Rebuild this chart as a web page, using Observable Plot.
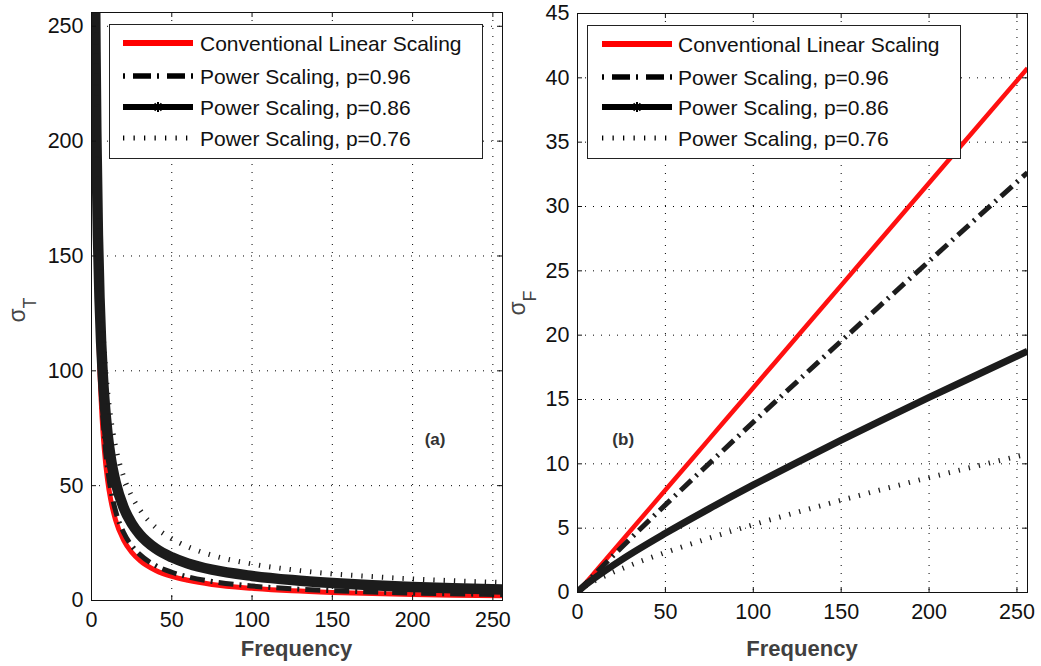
<!DOCTYPE html>
<html><head><meta charset="utf-8">
<script src="https://cdn.jsdelivr.net/npm/d3@7"></script>
<script src="https://cdn.jsdelivr.net/npm/@observablehq/plot@0.6"></script>
<style>
body{margin:0;background:#fff;}
#wrap{position:relative;width:1041px;height:666px;overflow:hidden;font-family:"Liberation Sans",Arial,sans-serif;}
.panel{position:absolute;top:0;}
</style></head><body><div id="wrap"></div>
<script>
// ---- data ----
const seriesNames = ["Conventional Linear Scaling","Power Scaling, p=0.96","Power Scaling, p=0.86","Power Scaling, p=0.76"];
// panel (a): sigma_T vs frequency
const freqA = [2, 2.5, 3, 4, 5, 6, 7, 8, 10, 12, 15, 20, 25, 30, 40, 50, 60, 75, 100, 125, 150, 175, 200, 225, 256];
const sigmaT_linear = [262, 210, 175, 131, 105, 87.5, 75, 65.6, 52.5, 43.8, 35, 26.3, 21, 17.5, 13.1, 10.5, 8.8, 7, 5.3, 4.2, 3.5, 3, 2.6, 2.3, 2.1];
const sigmaT_p96 = [270, 218, 183, 139, 112, 94, 81, 71.3, 57.6, 48.3, 39, 29.6, 23.9, 20.1, 15.2, 12.3, 10.3, 8.3, 6.3, 5.1, 4.3, 3.7, 3.2, 2.9, 2.6];
const sigmaT_p86 = [289, 239, 204, 159, 131.5, 112.4, 98.5, 87.8, 72.5, 62, 51.5, 40.5, 33.6, 28.8, 22.6, 18.8, 16.1, 13.4, 10.7, 8.9, 7.6, 6.6, 5.9, 5.3, 4.8];
const sigmaT_p76 = [310, 262, 228, 183, 154.5, 134.5, 119.6, 108, 91.2, 79.4, 67, 53.9, 45.5, 39.6, 31.8, 26.9, 23.4, 19.7, 15.9, 13.4, 11.6, 10.4, 9.4, 8.6, 7.8];
// panel (b): sigma_F vs frequency
const freqB = [0, 2, 5, 10, 25, 50, 75, 100, 125, 150, 175, 200, 225, 256];
const sigmaF_linear = [0, 0.32, 0.8, 1.59, 3.98, 7.96, 11.94, 15.92, 19.89, 23.87, 27.85, 31.83, 35.81, 40.74];
const sigmaF_p96 = [0, 0.31, 0.75, 1.45, 3.5, 6.81, 10.04, 13.24, 16.4, 19.54, 22.65, 25.75, 28.84, 32.64];
const sigmaF_p86 = [0, 0.29, 0.64, 1.15, 2.54, 4.6, 6.52, 8.36, 10.12, 11.84, 13.51, 15.16, 16.77, 18.75];
const sigmaF_p76 = [0, 0.27, 0.54, 0.92, 1.84, 3.11, 4.23, 5.27, 6.24, 7.17, 8.07, 8.93, 9.76, 10.77];
const xTicks = [0, 50, 100, 150, 200, 250];
const yTicksA = [0, 50, 100, 150, 200, 250];
const yTicksB = [0, 5, 10, 15, 20, 25, 30, 35, 40, 45];

// ---- styles ----
const FONT = '"Liberation Sans", Arial, sans-serif';
const styles = [
  {stroke: "#ff1010", legStroke: "#ff0000", wA: 5, wB: 4.5, dash: null, legW: 6, legDash: null},
  {stroke: "#1c1c1c", legStroke: "#000", wA: 5, wB: 5, dash: "15,6,2,6", legW: 5.5, legDash: "2,8,18,6"},
  {stroke: "#1c1c1c", legStroke: "#000", wA: 10.5, wB: 7, dash: null, legW: 6, legDash: null, marker: true},
  {stroke: "#1c1c1c", legStroke: "#000", wA: 5, wB: 5, dash: "1.3,9", legW: 5, legDash: "1.3,9.2"}
];

function tidy(freq, arrays) {
  const out = [];
  arrays.forEach((arr, s) => arr.forEach((v, i) => out.push({s, f: freq[i], v})));
  return out;
}

function panel(opts) {
  const {left, width, height, mL, mR, mT, mB, yDomain, yTicks, rows, wKey, note, yLabel, sub, labelPos, legend} = opts;
  const frameW = width - mL - mR, frameH = height - mT - mB;
  const lineMarks = [0, 1, 2, 3].map(s => Plot.line(rows.filter(d => d.s === s), {
    x: "f", y: "v", stroke: styles[s].stroke, strokeWidth: styles[s][wKey],
    strokeDasharray: styles[s].dash, strokeLinecap: "butt", strokeLinejoin: "round",
    curve: "monotone-x", clip: true
  }));
  const svg = Plot.plot({
    width, height, marginLeft: mL, marginRight: mR, marginTop: mT, marginBottom: mB,
    style: {fontFamily: FONT, fontSize: "21px", color: "#111", background: "transparent", overflow: "visible"},
    x: {domain: [0, 256], axis: null},
    y: {domain: yDomain, axis: null},
    marks: [
      Plot.gridX(xTicks, {stroke: "#000", strokeOpacity: 1, strokeDasharray: "1,7"}),
      Plot.gridY(yTicks, {stroke: "#000", strokeOpacity: 1, strokeDasharray: "1,7"}),
      ...lineMarks,
      Plot.text([note], {x: d => d.f, y: d => d.v, text: d => d.t, fontWeight: "bold", fontSize: 17, fill: "#333"}),
      Plot.frame({stroke: "#111", strokeWidth: 1}),
      Plot.tickX(xTicks, {x: d => d, insetTop: frameH - 5, stroke: "#111"}),
      Plot.tickX(xTicks, {x: d => d, insetBottom: frameH - 5, stroke: "#111"}),
      Plot.tickY(yTicks, {y: d => d, insetRight: frameW - 5, stroke: "#111"}),
      Plot.tickY(yTicks, {y: d => d, insetLeft: frameW - 5, stroke: "#111"}),
      Plot.axisX(xTicks, {anchor: "bottom", tickSize: 0, tickPadding: 11, fontSize: 21.5, label: null}),
      Plot.axisY(yTicks, {anchor: "left", tickSize: 0, tickPadding: 8, fontSize: 21.5, label: null})
    ]
  });
  const root = d3.select(svg);
  // x label
  root.append("text").attr("x", mL + frameW / 2).attr("y", height - 10)
    .attr("text-anchor", "middle").attr("font-family", FONT).attr("font-weight", "bold")
    .attr("font-size", 22).attr("fill", "#404040").text("Frequency");
  // y label with subscript
  const yl = root.append("text").attr("transform", `translate(${labelPos[0]},${labelPos[1]}) rotate(-90)`)
    .attr("text-anchor", "middle").attr("font-family", FONT).attr("fill", "#444");
  yl.append("tspan").attr("font-size", 23).text(yLabel);
  yl.append("tspan").attr("font-size", 18).attr("dy", 11).text(sub);
  // legend
  const g = root.append("g").attr("text-anchor", "start");
  g.append("rect").attr("x", legend.x + 0.5).attr("y", legend.y + 0.5).attr("width", legend.w).attr("height", legend.h)
    .attr("fill", "#fff").attr("stroke", "#222").attr("stroke-width", 1);
  legend.rows.forEach((yy, i) => {
    const st = styles[i];
    g.append("line").attr("x1", legend.l0).attr("x2", legend.l1).attr("y1", yy).attr("y2", yy)
      .attr("stroke", st.legStroke).attr("stroke-width", st.legW)
      .attr("stroke-dasharray", st.legDash).attr("stroke-linecap", "butt");
    if (st.marker) {
      const cx = (legend.l0 + legend.l1) / 2;
      [0, 45, 90, 135].forEach(a => {
        const r = 5, rad = a * Math.PI / 180;
        g.append("line").attr("x1", cx - r * Math.cos(rad)).attr("x2", cx + r * Math.cos(rad))
          .attr("y1", yy - r * Math.sin(rad)).attr("y2", yy + r * Math.sin(rad))
          .attr("stroke", "#000").attr("stroke-width", 2);
      });
    }
    g.append("text").attr("x", legend.tx).attr("y", yy).attr("dy", "0.36em").attr("text-anchor", "start")
      .attr("font-family", FONT).attr("font-size", 21).attr("fill", "#111").text(seriesNames[i]);
  });
  const div = document.createElement("div");
  div.className = "panel";
  div.style.left = left + "px";
  div.appendChild(svg);
  document.getElementById("wrap").appendChild(div);
}

panel({
  left: 0, width: 520, height: 666, mL: 91, mR: 18, mT: 12, mB: 66,
  yDomain: [0, 256], yTicks: yTicksA,
  rows: tidy(freqA, [sigmaT_linear, sigmaT_p96, sigmaT_p86, sigmaT_p76]), wKey: "wA",
  note: {f: 214, v: 70, t: "(a)"}, yLabel: "σ", sub: "T", labelPos: [25, 310],
  legend: {x: 109, y: 24, w: 373, h: 134, l0: 123, l1: 193, tx: 200, rows: [43, 76, 107, 138]}
});
panel({
  left: 520, width: 521, height: 666, mL: 57, mR: 14, mT: 13, mB: 74,
  yDomain: [0, 45], yTicks: yTicksB,
  rows: tidy(freqB, [sigmaF_linear, sigmaF_p96, sigmaF_p86, sigmaF_p76]), wKey: "wB",
  note: {f: 26, v: 11.9, t: "(b)"}, yLabel: "σ", sub: "F", labelPos: [5, 303],
  legend: {x: 67, y: 25, w: 373, h: 133, l0: 82, l1: 152, tx: 158, rows: [44, 77, 107, 138]}
});
</script></body></html>
